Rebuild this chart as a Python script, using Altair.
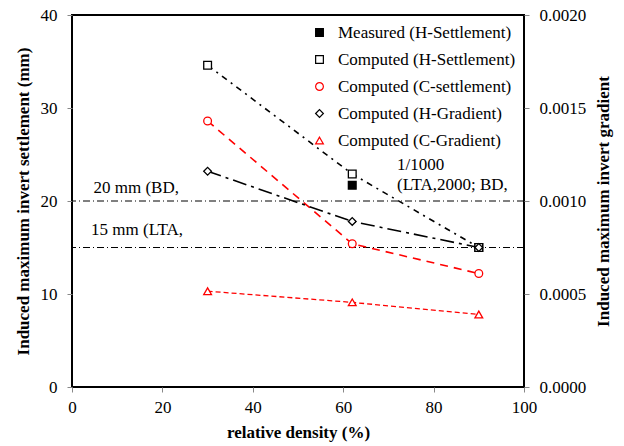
import altair as alt
import pandas as pd

# ---- data ----
density = [30, 62, 90]
measured_density = [62, 90]
measured_h_settlement = [21.7, 15.0]
computed_h_settlement = [34.6, 22.9, 15.0]
computed_c_settlement = [28.6, 15.4, 12.2]
computed_h_gradient = [0.00116, 0.00089, 0.00075]
computed_c_gradient = [0.000515, 0.000455, 0.00039]

series_names = [
    "Measured (H-Settlement)",
    "Computed (H-Settlement)",
    "Computed (C-settlement)",
    "Computed (H-Gradient)",
    "Computed (C-Gradient)",
]
series_colors = ["black", "black", "red", "black", "red"]
series_shapes = ["square", "square", "circle", "diamond", "triangle-up"]
series_fills = ["black", "white", "white", "white", "white"]

limit_values = [20, 15]
limit_label_text = ["20 mm (BD,", "15 mm (LTA,"]
limit_label_x = [14.2, 14.4]
limit_label_y = [21.4, 16.9]
gradient_note_text = ["1/1000", "(LTA,2000;  BD,"]
gradient_note_x = [71.9, 71.9]
gradient_note_y = [23.9, 21.7]

x_ticks = [0, 20, 40, 60, 80, 100]
left_ticks = [0, 10, 20, 30, 40]
right_ticks = [0, 0.0005, 0.001, 0.0015, 0.002]

FONT = "Liberation Serif"

# ---- tables ----
def frame(xs, ys, name):
    return pd.DataFrame({"density": xs, "value": ys, "series": name})

df_meas = frame(measured_density, measured_h_settlement, series_names[0])
df_hs = frame(density, computed_h_settlement, series_names[1])
df_cs = frame(density, computed_c_settlement, series_names[2])
df_hg = frame(density, computed_h_gradient, series_names[3])
df_cg = frame(density, computed_c_gradient, series_names[4])
df_settle_pts = pd.concat([df_meas, df_hs, df_cs])
df_grad_pts = pd.concat([df_hg, df_cg])
df_limits = pd.DataFrame({"value": limit_values})
df_limit_text = pd.DataFrame({"density": limit_label_x, "value": limit_label_y, "label": limit_label_text})
df_note = pd.DataFrame({"density": gradient_note_x, "value": gradient_note_y, "label": gradient_note_text})

x_enc = alt.X("density:Q", scale=alt.Scale(domain=[0, 100], nice=False, padding=0),
              axis=alt.Axis(values=x_ticks, title="relative density (%)", format="d", labelPadding=7,
                            titlePadding=9, labelFlush=False))

left_scale = alt.Scale(domain=[0, 40], nice=False, padding=0)
y_left = alt.Y("value:Q", scale=left_scale,
               axis=alt.Axis(values=left_ticks, title="Induced maximum invert settlement (mm)",
                             format="d", titlePadding=8, labelPadding=10, labelFlush=False))

right_scale = alt.Scale(domain=[0, 0.002], nice=False, padding=0)
y_right = alt.Y("value:Q", scale=right_scale,
                axis=alt.Axis(orient="right", values=right_ticks, format=".4f",
                              title="Induced maximum invert gradient", titleAngle=270,
                              titlePadding=27, labelPadding=10, labelFlush=False))

legend = alt.Legend(title=None, orient="none", legendX=239, legendY=9,
                    labelFont=FONT, labelFontSize=17, labelColor="black",
                    symbolSize=60, symbolStrokeWidth=1.2, rowPadding=9, padding=0,
                    labelOffset=10, labelLimit=400)
color_enc = alt.Color("series:N", scale=alt.Scale(domain=series_names, range=series_colors), legend=legend)
shape_enc = alt.Shape("series:N", scale=alt.Scale(domain=series_names, range=series_shapes), legend=legend)
fill_enc = alt.Fill("series:N", scale=alt.Scale(domain=series_names, range=series_fills), legend=legend)

# ---- left-axis layers ----
limit_rules = alt.Chart(df_limits).mark_rule(color="black", strokeWidth=1, strokeDash=[7, 3, 1, 3]).encode(
    y=y_left)
line_hs = alt.Chart(df_hs).mark_line(color="black", strokeWidth=1.6, strokeDash=[6, 5, 2, 5]).encode(
    x=x_enc, y=y_left)
line_cs = alt.Chart(df_cs).mark_line(color="red", strokeWidth=1.6, strokeDash=[8, 6]).encode(
    x=x_enc, y=y_left)
settle_pts = alt.Chart(df_settle_pts).mark_point(filled=False, size=60, strokeWidth=1.3, opacity=1).encode(
    x=x_enc, y=y_left, color=color_enc, shape=shape_enc, fill=fill_enc)
limit_text = alt.Chart(df_limit_text).mark_text(font=FONT, fontSize=17, color="black", align="center").encode(
    x=x_enc, y=y_left, text="label:N")
note_text = alt.Chart(df_note).mark_text(font=FONT, fontSize=17, color="black", align="left").encode(
    x=x_enc, y=y_left, text="label:N")

left = alt.layer(limit_rules, line_hs, line_cs, settle_pts, limit_text, note_text)

# ---- right-axis layers ----
line_hg = alt.Chart(df_hg).mark_line(color="black", strokeWidth=1.6, strokeDash=[14, 5, 3, 5]).encode(
    x=x_enc, y=y_right)
line_cg = alt.Chart(df_cg).mark_line(color="red", strokeWidth=1.3, strokeDash=[5, 3]).encode(
    x=x_enc, y=y_right)
grad_pts = alt.Chart(df_grad_pts).mark_point(filled=False, size=60, strokeWidth=1.3, opacity=1).encode(
    x=x_enc, y=y_right, color=color_enc, shape=shape_enc, fill=fill_enc)

right = alt.layer(line_hg, line_cg, grad_pts)

chart = alt.layer(left, right).resolve_scale(y="independent").properties(
    width=452, height=372,
    autosize=alt.AutoSizeParams(type="none"),
    padding={"left": 72, "top": 15, "right": 100, "bottom": 59},
).configure_view(
    stroke="black", strokeWidth=2
).configure_axis(
    grid=False, domain=False,
    labelFont=FONT, labelFontSize=17, labelColor="black",
    titleFont=FONT, titleFontSize=17, titleFontWeight="bold", titleColor="black",
    tickColor="#888888", tickSize=5,
)

chart.save("out.html", embed_options={"renderer": "svg", "actions": False})
